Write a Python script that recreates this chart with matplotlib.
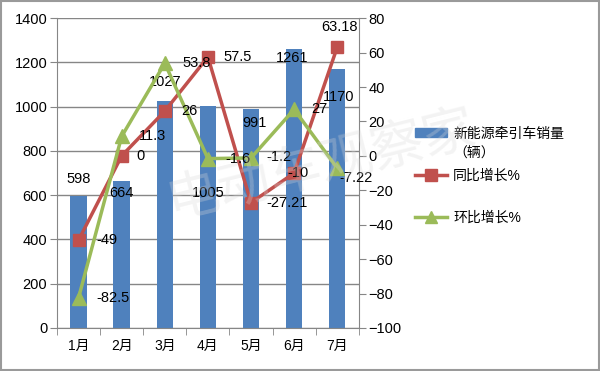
import matplotlib.pyplot as plt
import numpy as np
from matplotlib.lines import Line2D
from matplotlib.patches import Patch, Rectangle

plt.rcParams['font.family'] = ['Liberation Sans', 'Noto Sans CJK SC']

# data
months = ['1月', '2月', '3月', '4月', '5月', '6月', '7月']
sales = [598, 664, 1027, 1005, 991, 1261, 1170]
yoy = [-49, 0, 26, 57.5, -27.21, -10, 63.18]
mom = [-82.5, 11.3, 53.8, -1.6, -1.2, 27, -7.22]

# label offsets in pixels (Excel placed them all over the place)
sales_off = [(0, 17), (0, -12), (0, 19), (0, -87), (4, -14), (-2, -9), (1, -28)]
yoy_off = [(28, 0), (19, 0), (25, 0), (30, 0), (36, 0), (4, 0), (2, 20)]
mom_off = [(34, 0), (31, 0), (32, 0), (30, 0), (28, 1), (25, 0), (19, -10)]

blue = '#4F81BD'
red = '#C0504D'
green = '#9BBB59'
grid_c = '#868686'

fig = plt.figure(figsize=(6, 3.71), dpi=100)
ax = fig.add_axes([0.095, 0.116, 0.503, 0.835])
x = np.arange(len(months))

ax.bar(x, sales, width=0.38, color=blue, zorder=2)
ax.set_ylim(0, 1400)
ax.set_yticks(range(0, 1401, 200))
ax.set_xlim(-0.5, len(months) - 0.5)
ax.set_xticks(x)
ax.set_xticklabels(months)
ax.set_xticks(np.arange(-0.5, len(months)), minor=True)
ax.tick_params(axis='x', which='major', length=0, labelsize=10, pad=8)
ax.tick_params(axis='x', which='minor', length=5, color=grid_c, direction='out')
ax.tick_params(axis='y', length=5, color=grid_c, labelsize=10.5, pad=2)
ax.yaxis.grid(True, color=grid_c, linewidth=1)
ax.set_axisbelow(True)
for s in ['top', 'right']:
    ax.spines[s].set_visible(False)
for s in ['left', 'bottom']:
    ax.spines[s].set_color(grid_c)

for i, v in enumerate(sales):
    ax.annotate(str(v), (x[i], v), xytext=sales_off[i], textcoords='offset pixels',
                ha='center', va='center', fontsize=10.5, zorder=5)

ax2 = ax.twinx()
ax2.set_ylim(-100, 80)
ax2.set_yticks(range(-100, 81, 20))
ax2.tick_params(axis='y', length=5, color=grid_c, labelsize=10.5, pad=2)
for s in ['top', 'left', 'bottom']:
    ax2.spines[s].set_visible(False)
ax2.spines['right'].set_color(grid_c)

ax2.plot(x, yoy, color=red, linewidth=2.5, marker='s', markersize=9, zorder=3)
ax2.plot(x, mom, color=green, linewidth=2.5, marker='^', markersize=10, zorder=4)

for i, v in enumerate(yoy):
    ax2.annotate(f'{v:g}', (x[i], v), xytext=yoy_off[i], textcoords='offset pixels',
                 ha='center', va='center', fontsize=10.5, zorder=6)
for i, v in enumerate(mom):
    ax2.annotate(f'{v:g}', (x[i], v), xytext=mom_off[i], textcoords='offset pixels',
                 ha='center', va='center', fontsize=10.5, zorder=6)

# legend (second line of the first label is added by hand so the patch
# sits next to the first line, like Excel does)
handles = [
    Patch(color=blue),
    Line2D([], [], color=red, linewidth=2.5, marker='s', markersize=8),
    Line2D([], [], color=green, linewidth=2.5, marker='^', markersize=8),
]
labels = ['新能源牵引车销量', '同比增长%', '环比增长%']
leg = fig.legend(handles, labels, loc='upper left', bbox_to_anchor=(0.68, 0.677),
                 frameon=False, fontsize=10, handlelength=2.3, handleheight=0.6,
                 labelspacing=2.0, handletextpad=0.45, borderpad=0)
fig.canvas.draw()
t0 = leg.get_texts()[0].get_window_extent()
fig.text(t0.x0 / fig.bbox.width, (t0.y0 - 6) / fig.bbox.height, '（辆）',
         fontsize=10, ha='left', va='top')

# faint watermark
fig.text(0.535, 0.55, '电动车观察家', fontsize=38, color='#d8d8d8', alpha=0.3,
         rotation=14, ha='center', va='center', zorder=10)

# outer border
fig.add_artist(Rectangle((0.002, 0.003), 0.996, 0.994, transform=fig.transFigure,
                         fill=False, edgecolor='#9a9a9a', linewidth=1.5))

plt.savefig('out.png', dpi=100)
